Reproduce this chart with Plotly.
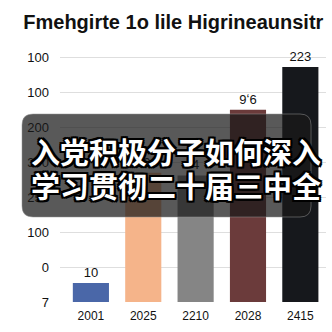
import plotly.graph_objects as go

categories = ["2001", "2025", "2210", "2028", "2415"]
values = [0.54, 3.7, 3.62, 5.5, 6.72]
bar_labels = ["10", "30", "4", "9ʻ6", "223"]
bar_colors = ["#4a67a8", "#f5b48a", "#858585", "#6b3b3b", "#16181c"]
tick_vals = [0, 1, 2, 3, 4, 5, 6, 7]
tick_text = ["7", "0", "100", "259", "300", "200", "100", "100"]
title_text = "Fmehgirte 1o lile Higrineaunsitr"
overlay_lines = ["入党积极分子如何深入", "学习贯彻二十届三中全"]

fig = go.Figure()
fig.add_trace(go.Bar(
    x=list(range(len(categories))), y=values,
    marker=dict(color=bar_colors, line=dict(width=0)),
    width=0.69,
    text=bar_labels, textposition="outside",
    textfont=dict(size=13, color="#111", family="Liberation Sans"),
    cliponaxis=False,
))

fig.update_layout(
    width=332, height=332,
    margin=dict(l=60, r=6, t=52, b=30),
    paper_bgcolor="white", plot_bgcolor="white",
    showlegend=False,
    title=dict(text=f"<b>{title_text}</b>", x=0.522, xanchor="center", y=0.935, yanchor="middle",
               font=dict(size=20, color="#111", family="Liberation Sans")),
    xaxis=dict(range=[-0.59, 4.49], tickvals=list(range(len(categories))), ticktext=categories,
               showgrid=False, zeroline=False, showline=False, ticklabelstandoff=5,
               tickfont=dict(size=12, color="#111", family="Liberation Sans")),
    yaxis=dict(range=[0, 7.15], tickvals=tick_vals, ticktext=tick_text,
               showgrid=True, gridcolor="#dedede", gridwidth=1, zeroline=False,
               ticklabelstandoff=10,
               tickfont=dict(size=13, color="#111", family="Liberation Sans")),
)

# rounded dark overlay (paper coords)
def px_x(p):
    return (p - 60) / 266.0
def px_y(p):
    return (332 - 30 - p) / 250.0

x0, x1, y0, y1, r = 22, 311, 114, 217, 11
path = (f"M {px_x(x0 + r)} {px_y(y0)} L {px_x(x1 - r)} {px_y(y0)} "
        f"Q {px_x(x1)} {px_y(y0)} {px_x(x1)} {px_y(y0 + r)} "
        f"L {px_x(x1)} {px_y(y1 - r)} Q {px_x(x1)} {px_y(y1)} {px_x(x1 - r)} {px_y(y1)} "
        f"L {px_x(x0 + r)} {px_y(y1)} Q {px_x(x0)} {px_y(y1)} {px_x(x0)} {px_y(y1 - r)} "
        f"L {px_x(x0)} {px_y(y0 + r)} Q {px_x(x0)} {px_y(y0)} {px_x(x0 + r)} {px_y(y0)} Z")
fig.add_shape(type="path", path=path, xref="paper", yref="paper",
              fillcolor="rgba(25,25,25,0.72)", line=dict(width=1, color="rgba(150,150,150,0.5)"),
              layer="above")

shadow = "2px 2px 0 #000, -2px -2px 0 #000, 2px -2px 0 #000, -2px 2px 0 #000, 0 2px 0 #000, 0 -2px 0 #000, 2px 0 0 #000, -2px 0 0 #000"
for i, line in enumerate(overlay_lines):
    fig.add_annotation(text=f"<b>{line}</b>", xref="paper", yref="paper",
                       x=px_x(176), y=px_y(151 + i * 34), xanchor="center", yanchor="middle",
                       showarrow=False,
                       font=dict(size=29, color="white", family="Noto Sans CJK SC", shadow=shadow))

fig.write_html("out.html")
